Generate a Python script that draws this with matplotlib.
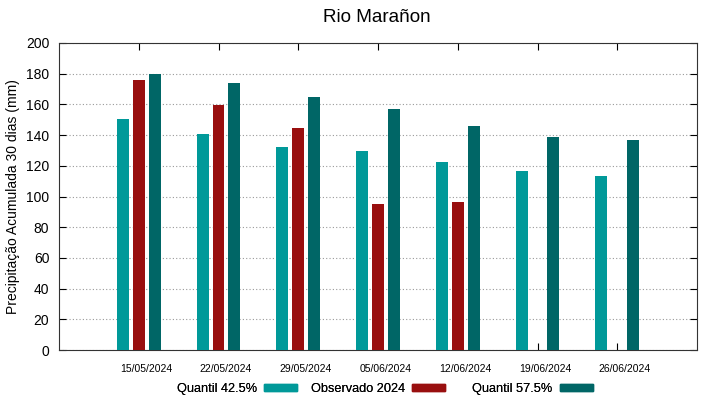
import numpy as np
import matplotlib
matplotlib.use("Agg")
import matplotlib.pyplot as plt
import matplotlib.transforms as mtransforms
from matplotlib.patches import Patch

plt.rcParams['font.family'] = ['Liberation Sans', 'DejaVu Sans']

dates = ["15/05/2024", "22/05/2024", "29/05/2024", "05/06/2024",
         "12/06/2024", "19/06/2024", "26/06/2024"]
q425 = [150.5, 141, 132, 129.7, 122.3, 116.7, 113.6]
obs2024 = [176, 159.5, 144.3, 95, 96.5, np.nan, np.nan]
q575 = [180, 174, 164.7, 157.3, 146.2, 138.6, 137]

c1, c2, c3 = "#009999", "#990f0f", "#006666"

fig = plt.figure(figsize=(7.19, 3.99), dpi=100)
ax = fig.add_axes([59/719, 49/399, 638/719, 307/399])

x = np.arange(1, len(dates) + 1)
w = 0.15
ax.bar(x - 0.2, q425, w, color=c1, zorder=3)
ax.bar(x, obs2024, w, color=c2, zorder=3)
ax.bar(x + 0.2, q575, w, color=c3, zorder=3)

ax.set_xlim(0, 8)
ax.set_ylim(0, 200)
ax.set_xticks(x)
ax.set_xticklabels(dates, fontsize=7.5)
ax.set_yticks(np.arange(0, 201, 20))
ax.tick_params(axis='y', labelsize=10, direction='in', right=True, length=5, pad=7)
ax.tick_params(axis='x', direction='in', top=True, length=5, pad=10)
off = mtransforms.ScaledTranslation(7.5/100, 0, fig.dpi_scale_trans)
for lab in ax.get_xticklabels():
    lab.set_transform(lab.get_transform() + off)
ax.yaxis.grid(True, linestyle=(0, (1, 2)), color='#999999', linewidth=0.8, zorder=0)
for s in ax.spines.values():
    s.set_color('#333333')

ax.set_ylabel("Precipitação Acumulada 30 dias (mm)", fontsize=10)
fig.text(377/719, 1 - 18/399, "Rio Marañon", ha='center', va='center', fontsize=13.6)

labels = ["Quantil 42.5%", "Observado 2024", "Quantil 57.5%"]
colors = [c1, c2, c3]
right_edges = [297, 445, 593]
for lab, col, xr in zip(labels, colors, right_edges):
    leg = fig.legend([Patch(color=col)], [lab], loc='center right',
                     bbox_to_anchor=(xr/719, 1 - 389/399), frameon=False,
                     markerfirst=False, fontsize=9.2, handlelength=2.6,
                     handleheight=0.4, handletextpad=0.55, borderpad=0,
                     borderaxespad=0)
    fig.add_artist(leg)

fig.savefig("out.png", dpi=100)
